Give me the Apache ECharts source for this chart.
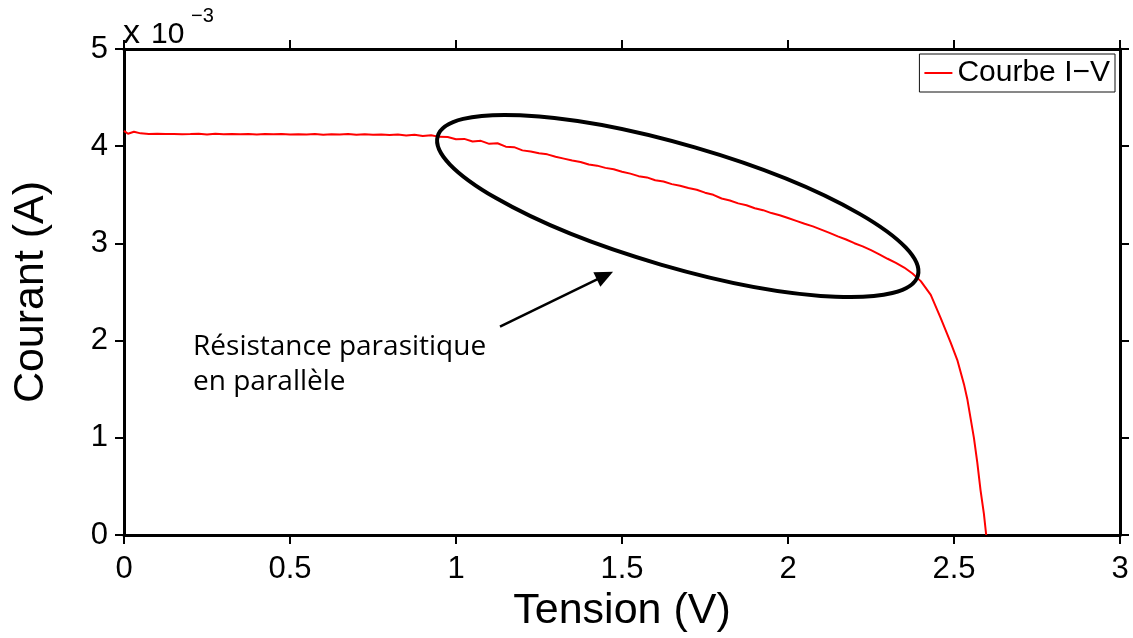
<!DOCTYPE html>
<html>
<head>
<meta charset="utf-8">
<title>Courbe I-V</title>
<script src="https://cdn.jsdelivr.net/npm/echarts@6/dist/echarts.min.js"></script>
<style>
  html, body { margin: 0; padding: 0; background: #fff; }
  #chart { width: 1133px; height: 638px; }
</style>
</head>
<body>
<div id="chart"></div>
<script>
// Measured I-V curve: voltage (V) and current (in units of 1e-3 A)
const voltage = [
  0.000, 0.012, 0.030, 0.050, 0.075, 0.100, 0.125, 0.150, 0.175, 0.200,
  0.225, 0.250, 0.275, 0.300, 0.325, 0.350, 0.375, 0.400, 0.425, 0.450,
  0.475, 0.500, 0.525, 0.550, 0.575, 0.600, 0.625, 0.650, 0.675, 0.700,
  0.725, 0.750, 0.775, 0.800, 0.825, 0.850, 0.875, 0.900, 0.925, 0.950,
  0.975, 1.000, 1.025, 1.050, 1.075, 1.100, 1.125, 1.150, 1.175, 1.200,
  1.225, 1.250, 1.275, 1.300, 1.325, 1.350, 1.375, 1.400, 1.425, 1.450,
  1.475, 1.500, 1.525, 1.550, 1.575, 1.600, 1.625, 1.650, 1.675, 1.700,
  1.725, 1.750, 1.775, 1.800, 1.825, 1.850, 1.875, 1.900, 1.925, 1.950,
  1.975, 2.000, 2.025, 2.050, 2.075, 2.100, 2.125, 2.150, 2.175, 2.200,
  2.225, 2.250, 2.275, 2.300, 2.325, 2.350, 2.375, 2.400, 2.430, 2.460,
  2.490, 2.510, 2.530, 2.540, 2.550, 2.560, 2.570, 2.580, 2.590, 2.597
];
const current = [
  4.158, 4.128, 4.148, 4.132, 4.126, 4.127, 4.125, 4.126, 4.124, 4.125,
  4.127, 4.120, 4.128, 4.124, 4.125, 4.122, 4.126, 4.121, 4.125, 4.123,
  4.126, 4.120, 4.124, 4.121, 4.125, 4.119, 4.123, 4.120, 4.125, 4.118,
  4.122, 4.117, 4.121, 4.116, 4.120, 4.111, 4.118, 4.104, 4.112, 4.096,
  4.094, 4.071, 4.075, 4.048, 4.055, 4.024, 4.030, 3.995, 3.990, 3.957,
  3.945, 3.928, 3.916, 3.892, 3.872, 3.852, 3.838, 3.812, 3.800, 3.777,
  3.762, 3.738, 3.718, 3.692, 3.679, 3.650, 3.636, 3.610, 3.594, 3.570,
  3.552, 3.522, 3.500, 3.462, 3.442, 3.412, 3.392, 3.362, 3.342, 3.312,
  3.290, 3.262, 3.232, 3.202, 3.175, 3.142, 3.108, 3.072, 3.040, 3.002,
  2.970, 2.930, 2.888, 2.842, 2.800, 2.752, 2.690, 2.612, 2.470, 2.232,
  1.980, 1.800, 1.552, 1.400, 1.200, 1.000, 0.750, 0.460, 0.220, 0.000
];
const seriesName = 'Courbe I\u2212V';
const xTicks = { min: 0, max: 3, interval: 0.5 };
const yTicks = { min: 0, max: 5, interval: 1 };
const yMultiplier = ['x', '10', '\u22123'];

// Annotation: ellipse around the sloped region, arrow and caption (data coordinates)
const ellipseCenter = [1.668, 3.385];
const ellipseRadii = [250, 61];      // px
const ellipseTiltDeg = 16.2;
const arrowFrom = [1.1325, 2.143];
const arrowTo = [1.473, 2.709];
const noteAnchor = [0.208, 1.93];
const noteLines = ['Résistance parasitique', 'en parallèle'];

const pairs = voltage.map((v, i) => [v, current[i]]);
const FONT = '"Liberation Sans", Arial, sans-serif';

const chart = echarts.init(document.getElementById('chart'), null, { renderer: 'canvas' });

function axisCommon(extra) {
  return Object.assign({
    type: 'value',
    axisLine: { show: true, onZero: false, lineStyle: { color: '#000', width: 3 } },
    axisTick: { show: true, inside: false, length: 9, lineStyle: { color: '#000', width: 2 } },
    splitLine: { show: false },
    minorTick: { show: false }
  }, extra);
}

chart.setOption({
  animation: false,
  backgroundColor: '#fff',
  grid: { left: 124, right: 13, top: 49, bottom: 103, containLabel: false, outerBoundsMode: 'none' },
  legend: {
    data: [{ name: seriesName, icon: 'rect' }],
    top: 54,
    right: 18,
    padding: [4, 5, 4, 5],
    itemWidth: 28,
    itemHeight: 2,
    itemGap: 5,
    borderColor: '#111',
    borderWidth: 1,
    backgroundColor: '#fff',
    textStyle: { fontFamily: FONT, fontSize: 30, color: '#000' }
  },
  xAxis: [
    axisCommon({
      position: 'bottom', min: xTicks.min, max: xTicks.max, interval: xTicks.interval,
      name: 'Tension (V)', nameLocation: 'middle', nameGap: 53,
      nameTextStyle: { fontFamily: FONT, fontSize: 43, color: '#000' },
      axisLabel: { margin: 19, fontFamily: FONT, fontSize: 31, color: '#000' }
    }),
    axisCommon({
      position: 'top', min: xTicks.min, max: xTicks.max, interval: xTicks.interval,
      axisLabel: { show: false }
    })
  ],
  yAxis: [
    axisCommon({
      position: 'left', min: yTicks.min, max: yTicks.max, interval: yTicks.interval,
      name: 'Courant (A)', nameLocation: 'middle', nameGap: 71,
      nameTextStyle: { fontFamily: FONT, fontSize: 43, color: '#000' },
      axisLabel: { margin: 16, fontFamily: FONT, fontSize: 31, color: '#000', padding: [5, 0, 0, 0] }
    }),
    axisCommon({
      position: 'right', min: yTicks.min, max: yTicks.max, interval: yTicks.interval,
      axisLabel: { show: false }
    })
  ],
  graphic: [
    {
      type: 'text', left: 123, top: 17, silent: true,
      style: { text: yMultiplier[0], fontFamily: FONT, fontSize: 34, fill: '#000' }
    },
    {
      type: 'text', left: 151, top: 19.5, silent: true,
      style: { text: yMultiplier[1], fontFamily: FONT, fontSize: 30, fill: '#000' }
    },
    {
      type: 'text', left: 191, top: 6, silent: true,
      style: { text: yMultiplier[2], fontFamily: FONT, fontSize: 20, fill: '#000' }
    }
  ],
  series: [
    {
      name: seriesName,
      type: 'line',
      xAxisIndex: 0,
      yAxisIndex: 0,
      data: pairs,
      symbol: 'none',
      showSymbol: false,
      lineStyle: { color: '#ff0000', width: 2 },
      itemStyle: { color: '#ff0000' },
      z: 3
    },
    {
      name: 'annotation',
      type: 'custom',
      xAxisIndex: 0,
      yAxisIndex: 0,
      silent: true,
      z: 4,
      data: [[ellipseCenter[0], ellipseCenter[1]]],
      renderItem: function (params, api) {
        const c = api.coord(ellipseCenter);
        const a0 = api.coord(arrowFrom);
        const a1 = api.coord(arrowTo);
        const ang = Math.atan2(a1[1] - a0[1], a1[0] - a0[0]);
        const headLen = 18, headHalf = 8;
        const bx = a1[0] - headLen * Math.cos(ang);
        const by = a1[1] - headLen * Math.sin(ang);
        const p1 = [bx + headHalf * Math.sin(ang), by - headHalf * Math.cos(ang)];
        const p2 = [bx - headHalf * Math.sin(ang), by + headHalf * Math.cos(ang)];
        const t = api.coord(noteAnchor);
        const noteStyle = { fontFamily: '"Open Sans", sans-serif', fontSize: 28, fill: '#000',
                            verticalAlign: 'middle', align: 'left' };
        return {
          type: 'group',
          children: [
            {
              type: 'ellipse',
              x: c[0], y: c[1],
              rotation: -ellipseTiltDeg * Math.PI / 180,
              shape: { cx: 0, cy: 0, rx: ellipseRadii[0], ry: ellipseRadii[1] },
              style: { fill: null, stroke: '#000', lineWidth: 4 }
            },
            {
              type: 'line',
              shape: { x1: a0[0], y1: a0[1], x2: bx + 2 * Math.cos(ang), y2: by + 2 * Math.sin(ang) },
              style: { stroke: '#000', lineWidth: 2.5 }
            },
            {
              type: 'polygon',
              shape: { points: [a1, p1, p2] },
              style: { fill: '#000' }
            },
            {
              type: 'text', x: t[0], y: t[1],
              style: Object.assign({ text: noteLines[0] }, noteStyle)
            },
            {
              type: 'text', x: t[0], y: t[1] + 35,
              style: Object.assign({ text: noteLines[1] }, noteStyle)
            }
          ]
        };
      }
    }
  ]
});
</script>
</body>
</html>
